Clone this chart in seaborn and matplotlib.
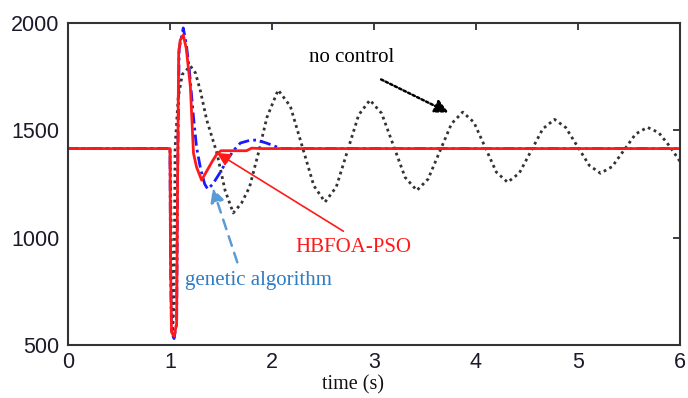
import numpy as np
import pandas as pd
import matplotlib
matplotlib.use("Agg")
import matplotlib.pyplot as plt
import seaborn as sns

# ---- data ----
t_nc = [0.0, 1.0, 1.01, 1.025, 1.04, 1.05, 1.08, 1.12, 1.20, 1.25, 1.30, 1.36, 1.46, 1.54, 1.62, 1.70,
        1.78, 1.87, 1.95, 2.06, 2.18, 2.295, 2.41, 2.52, 2.63, 2.74, 2.85, 2.96, 3.075, 3.19, 3.305,
        3.42, 3.53, 3.645, 3.76, 3.87, 3.98, 4.09, 4.20, 4.31, 4.425, 4.54, 4.655, 4.77, 4.88, 4.995,
        5.11, 5.22, 5.335, 5.45, 5.565, 5.68, 5.79, 5.90, 6.0]
v_nc = [1415, 1415, 1100, 560, 700, 1420, 1650, 1760, 1800, 1767, 1680, 1548, 1394, 1220, 1115, 1160,
        1236, 1400, 1560, 1688, 1612, 1427, 1242, 1166, 1236, 1404, 1572, 1641, 1579, 1430, 1281,
        1220, 1273, 1402, 1531, 1585, 1537, 1421, 1305, 1258, 1301, 1404, 1507, 1551, 1513, 1425,
        1337, 1300, 1331, 1407, 1483, 1514, 1490, 1425, 1355]

t_ga = [0.0, 1.0, 1.005, 1.015, 1.04, 1.065, 1.075, 1.09, 1.13, 1.16, 1.19, 1.23, 1.26, 1.30, 1.34,
        1.37, 1.42, 1.50, 1.56, 1.63, 1.69, 1.78, 1.85, 1.95, 2.05, 2.10, 6.0]
v_ga = [1415, 1415, 900, 560, 530, 600, 1300, 1880, 1977, 1900, 1780, 1562, 1422, 1320, 1250,
        1226, 1250, 1310, 1362, 1410, 1441, 1453, 1455, 1440, 1422, 1415, 1415]

t_hb = [0.0, 1.0, 1.005, 1.015, 1.04, 1.065, 1.075, 1.085, 1.10, 1.13, 1.16, 1.20, 1.23, 1.26, 1.31,
        1.36, 1.41, 1.46, 1.50, 1.75, 1.80, 1.90, 6.0]
v_hb = [1415, 1415, 900, 560, 540, 600, 1300, 1860, 1920, 1944, 1880, 1702, 1394, 1329, 1268,
        1310, 1352, 1390, 1405, 1405, 1417, 1415, 1415]

x_ticks = [0, 1, 2, 3, 4, 5, 6]
y_ticks = [500, 1000, 1500, 2000]

sns.set_style("white")
plt.rcParams["font.family"] = ["Liberation Sans", "DejaVu Sans"]

fig = plt.figure(figsize=(6.88, 3.98), dpi=100)
ax = fig.add_axes([68/688, 1-345/398, (680-68)/688, (345-23)/398])

df_nc = pd.DataFrame({"t": t_nc, "v": v_nc})
df_ga = pd.DataFrame({"t": t_ga, "v": v_ga})
df_hb = pd.DataFrame({"t": t_hb, "v": v_hb})

sns.lineplot(data=df_nc, x="t", y="v", ax=ax, sort=False, estimator=None,
             color="#333333", linestyle=(0, (1, 1.3)), linewidth=2.0)
sns.lineplot(data=df_ga, x="t", y="v", ax=ax, sort=False, estimator=None,
             color="#1a1aff", linestyle=(0, (4, 1.5, 1, 1.5)), linewidth=2.0)
sns.lineplot(data=df_hb, x="t", y="v", ax=ax, sort=False, estimator=None,
             color="#ff1a1a", linestyle="-", linewidth=2.0)

ax.set_xlim(0, 6)
ax.set_ylim(500, 2000)
ax.set_xticks(x_ticks)
ax.set_yticks(y_ticks)
ax.tick_params(direction="in", length=5, width=1.2, top=True, right=True,
               labelsize=15.5, colors="#1a1a2a", pad=6)
ax.tick_params(axis="x", pad=5)
for s in ax.spines.values():
    s.set_linewidth(1.5)
    s.set_color("#333333")
ax.set_xlabel("")
ax.set_ylabel("")
serif = ["Liberation Serif", "DejaVu Serif"]
fig.text(353/688, 1-385/398, "time (s)", family=serif, fontsize=14.5, ha="center", va="center",
         color="#111111")

ax.text(2.78, 1837, "no control", fontsize=15, family=serif, color="black", ha="center", va="center")
ax.annotate("", xy=(3.73, 1583), xytext=(3.07, 1737),
            arrowprops=dict(arrowstyle="-|>,head_length=0.8,head_width=0.4",
                            color="black", lw=1.8, linestyle=(0, (1, 1)), shrinkA=0, shrinkB=0))

ax.text(2.80, 952, "HBFOA-PSO", fontsize=15, family=serif, color="#ff1a1a", ha="center", va="center")
ax.annotate("", xy=(1.46, 1395), xytext=(2.70, 1030),
            arrowprops=dict(arrowstyle="-|>,head_length=0.8,head_width=0.4",
                            color="#ff1a1a", lw=1.2, shrinkA=0, shrinkB=0))

ax.text(1.15, 802, "genetic algorithm", fontsize=15, family=serif, color="#2e7cc4", ha="left", va="center")
ax.annotate("", xy=(1.42, 1230), xytext=(1.66, 885),
            arrowprops=dict(arrowstyle="-|>,head_length=0.8,head_width=0.4",
                            color="#5b9bd5", lw=1.8, linestyle=(0, (4, 3)), shrinkA=0, shrinkB=0))

fig.savefig("out.png", dpi=100)
